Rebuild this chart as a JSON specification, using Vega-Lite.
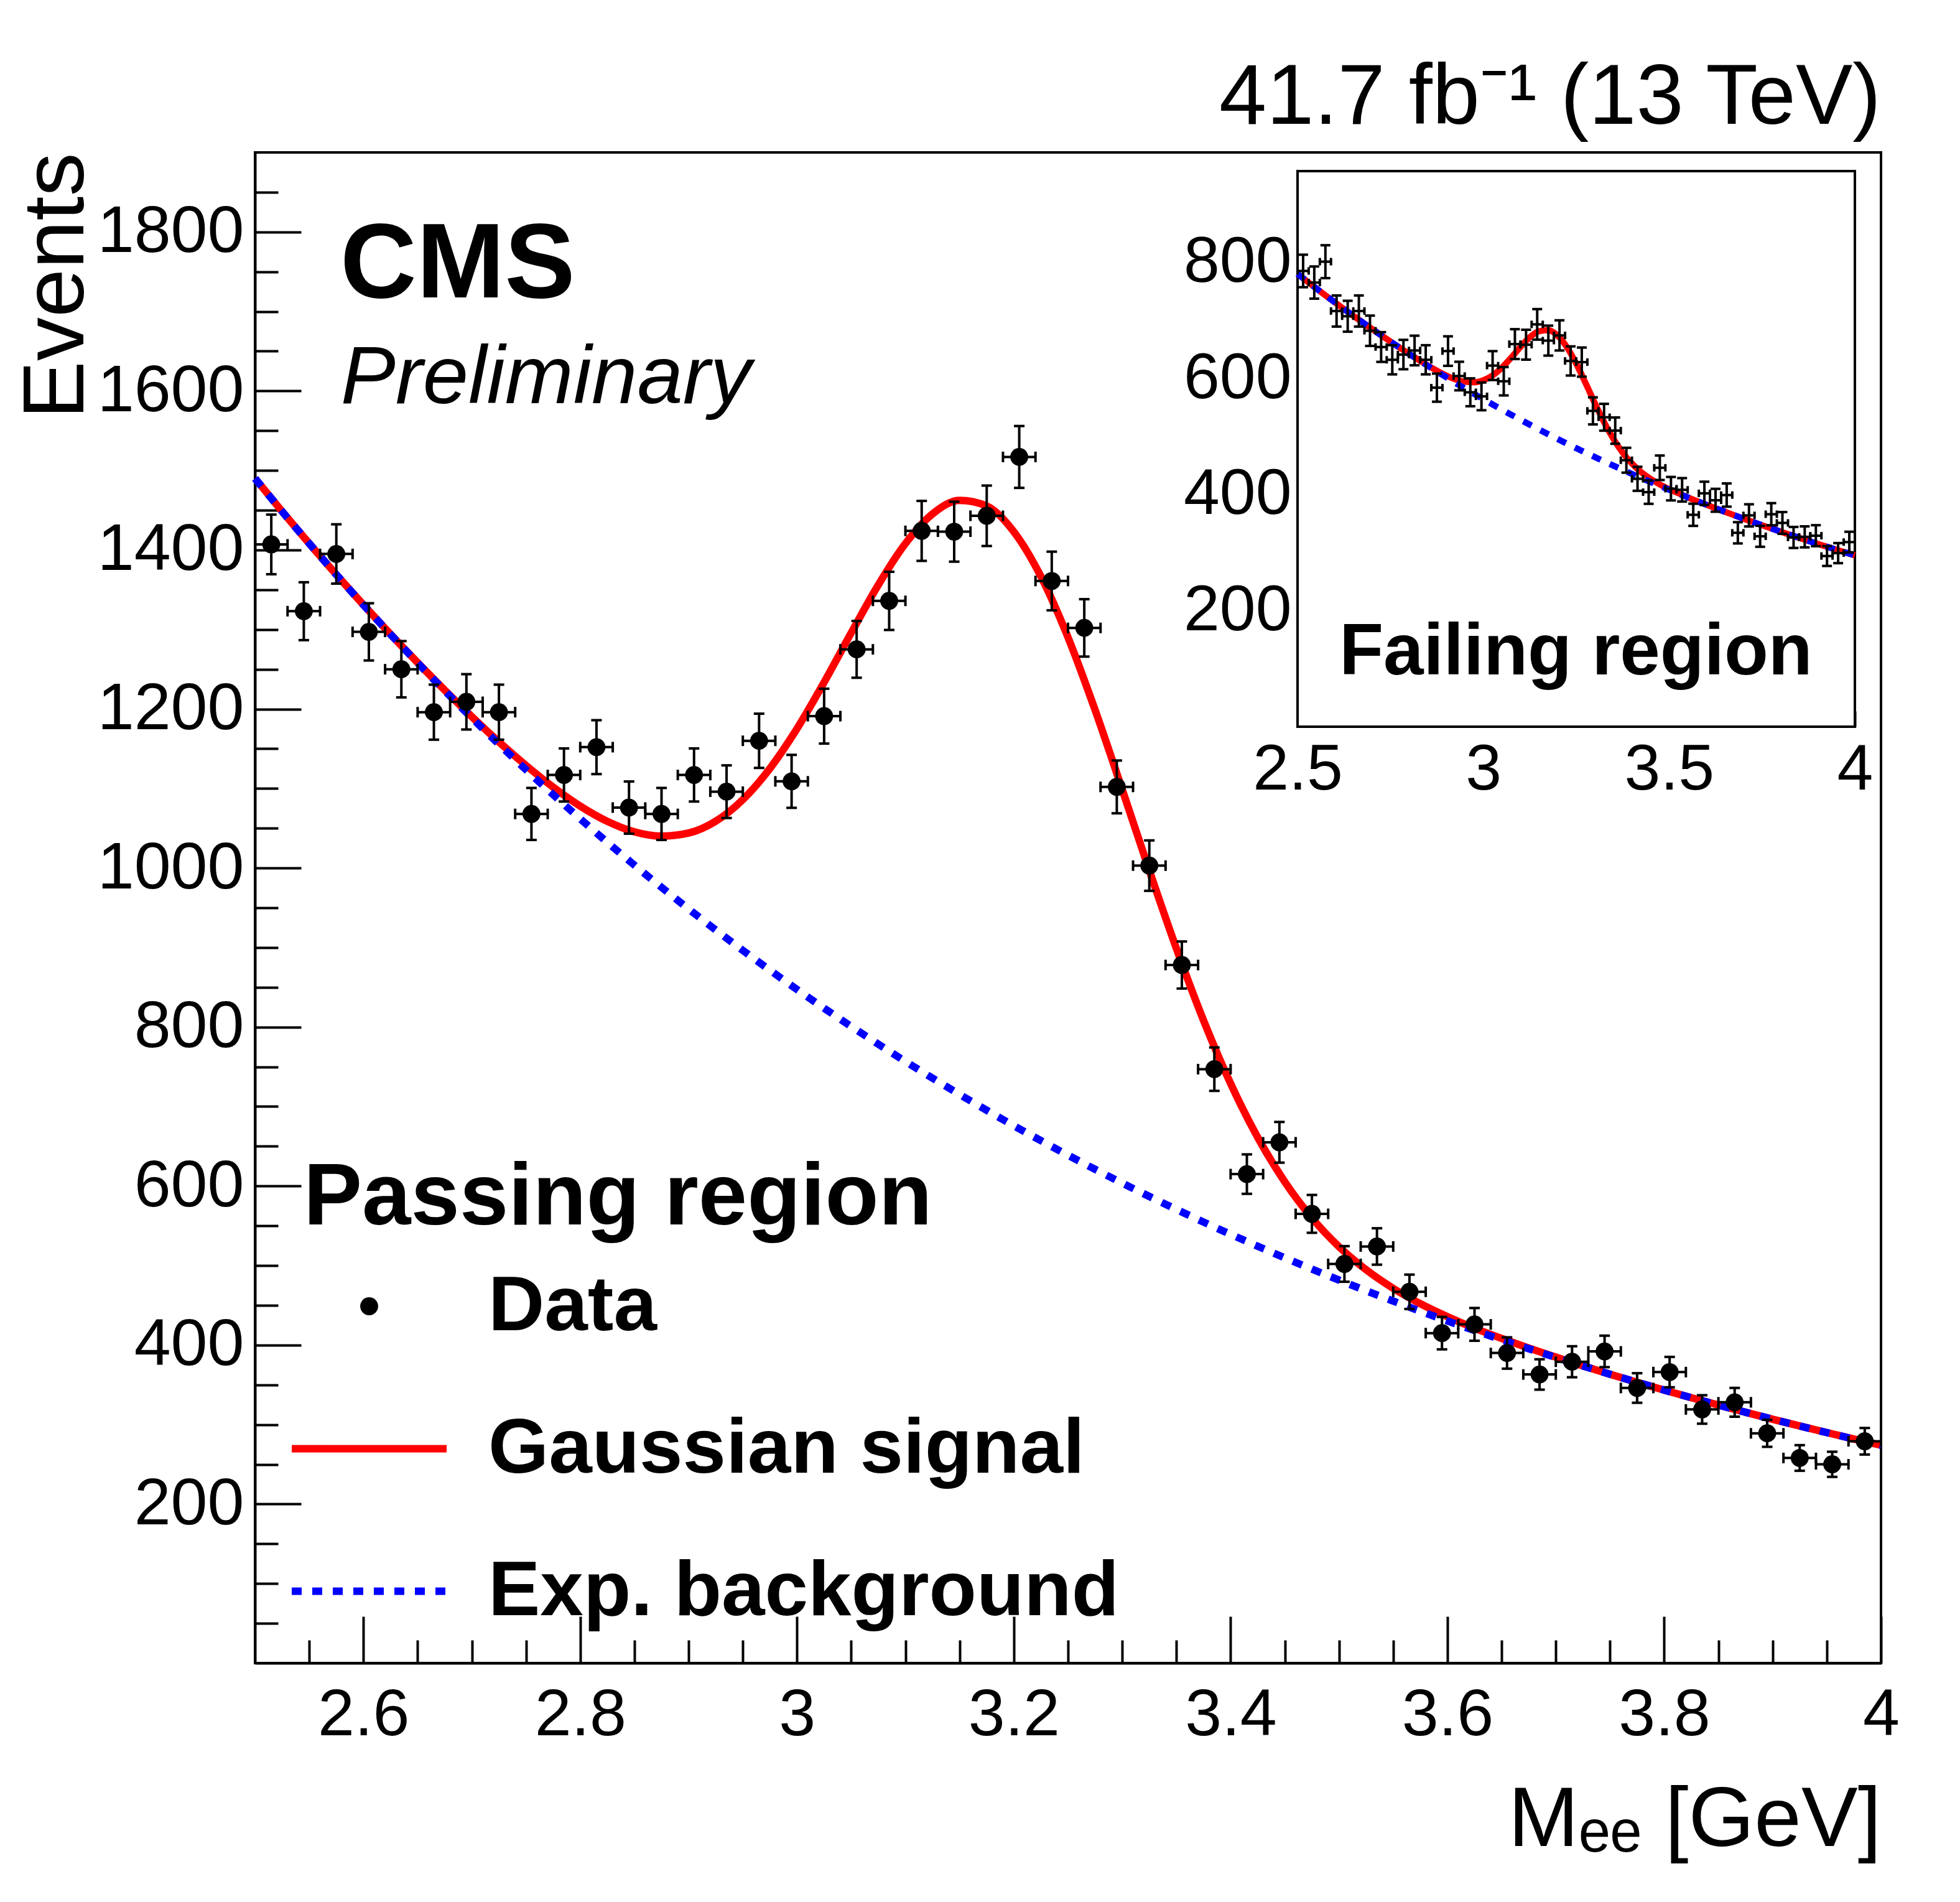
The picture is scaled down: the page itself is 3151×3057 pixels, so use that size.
{
  "$schema": "https://vega.github.io/schema/vega-lite/v6.json",
  "width": 2614,
  "height": 2428,
  "autosize": {"type": "none"},
  "padding": {"left": 410, "top": 245, "right": 127, "bottom": 384},
  "background": "white",
  "title": {"text": "41.7 fb⁻¹ (13 TeV)", "anchor": "end", "frame": "group", "fontSize": 137, "fontWeight": "normal", "font": "Liberation Sans", "baseline": "alphabetic", "offset": -91, "color": "black", "limit": 3000},
  "config": {
    "view": {"stroke": "black", "strokeWidth": 4},
    "axis": {"grid": false, "domainColor": "black", "tickColor": "black", "labelColor": "black", "titleColor": "black", "labelFont": "Liberation Sans", "titleFont": "Liberation Sans", "tickWidth": 4, "domainWidth": 4, "labelLimit": 1000, "titleLimit": 3000},
    "legend": {"labelFont": "Liberation Sans", "titleFont": "Liberation Sans"}
  },
  "datasets": {
    "pass": [
      {"m": 2.515, "n": 1407, "lo": 1369.5, "hi": 1444.5, "mlo": 2.5, "mhi": 2.53},
      {"m": 2.545, "n": 1323, "lo": 1286.6, "hi": 1359.4, "mlo": 2.53, "mhi": 2.56},
      {"m": 2.575, "n": 1395, "lo": 1357.7, "hi": 1432.3, "mlo": 2.56, "mhi": 2.59},
      {"m": 2.605, "n": 1297, "lo": 1261.0, "hi": 1333.0, "mlo": 2.59, "mhi": 2.62},
      {"m": 2.635, "n": 1250, "lo": 1214.6, "hi": 1285.4, "mlo": 2.62, "mhi": 2.65},
      {"m": 2.665, "n": 1196, "lo": 1161.4, "hi": 1230.6, "mlo": 2.65, "mhi": 2.68},
      {"m": 2.695, "n": 1209, "lo": 1174.2, "hi": 1243.8, "mlo": 2.68, "mhi": 2.71},
      {"m": 2.725, "n": 1196, "lo": 1161.4, "hi": 1230.6, "mlo": 2.71, "mhi": 2.74},
      {"m": 2.755, "n": 1068, "lo": 1035.3, "hi": 1100.7, "mlo": 2.74, "mhi": 2.77},
      {"m": 2.785, "n": 1117, "lo": 1083.6, "hi": 1150.4, "mlo": 2.77, "mhi": 2.8},
      {"m": 2.815, "n": 1152, "lo": 1118.1, "hi": 1185.9, "mlo": 2.8, "mhi": 2.83},
      {"m": 2.845, "n": 1076, "lo": 1043.2, "hi": 1108.8, "mlo": 2.83, "mhi": 2.86},
      {"m": 2.875, "n": 1068, "lo": 1035.3, "hi": 1100.7, "mlo": 2.86, "mhi": 2.89},
      {"m": 2.905, "n": 1117, "lo": 1083.6, "hi": 1150.4, "mlo": 2.89, "mhi": 2.92},
      {"m": 2.935, "n": 1096, "lo": 1062.9, "hi": 1129.1, "mlo": 2.92, "mhi": 2.95},
      {"m": 2.965, "n": 1160, "lo": 1125.9, "hi": 1194.1, "mlo": 2.95, "mhi": 2.98},
      {"m": 2.995, "n": 1109, "lo": 1075.7, "hi": 1142.3, "mlo": 2.98, "mhi": 3.01},
      {"m": 3.025, "n": 1191, "lo": 1156.5, "hi": 1225.5, "mlo": 3.01, "mhi": 3.04},
      {"m": 3.055, "n": 1275, "lo": 1239.3, "hi": 1310.7, "mlo": 3.04, "mhi": 3.07},
      {"m": 3.085, "n": 1336, "lo": 1299.4, "hi": 1372.6, "mlo": 3.07, "mhi": 3.1},
      {"m": 3.115, "n": 1424, "lo": 1386.3, "hi": 1461.7, "mlo": 3.1, "mhi": 3.13},
      {"m": 3.145, "n": 1423, "lo": 1385.3, "hi": 1460.7, "mlo": 3.13, "mhi": 3.16},
      {"m": 3.175, "n": 1443, "lo": 1405.0, "hi": 1481.0, "mlo": 3.16, "mhi": 3.19},
      {"m": 3.205, "n": 1517, "lo": 1478.1, "hi": 1555.9, "mlo": 3.19, "mhi": 3.22},
      {"m": 3.235, "n": 1361, "lo": 1324.1, "hi": 1397.9, "mlo": 3.22, "mhi": 3.25},
      {"m": 3.265, "n": 1302, "lo": 1265.9, "hi": 1338.1, "mlo": 3.25, "mhi": 3.28},
      {"m": 3.295, "n": 1102, "lo": 1068.8, "hi": 1135.2, "mlo": 3.28, "mhi": 3.31},
      {"m": 3.325, "n": 1003, "lo": 971.3, "hi": 1034.7, "mlo": 3.31, "mhi": 3.34},
      {"m": 3.355, "n": 878, "lo": 848.4, "hi": 907.6, "mlo": 3.34, "mhi": 3.37},
      {"m": 3.385, "n": 747, "lo": 719.7, "hi": 774.3, "mlo": 3.37, "mhi": 3.4},
      {"m": 3.415, "n": 615, "lo": 590.2, "hi": 639.8, "mlo": 3.4, "mhi": 3.43},
      {"m": 3.445, "n": 655, "lo": 629.4, "hi": 680.6, "mlo": 3.43, "mhi": 3.46},
      {"m": 3.475, "n": 565, "lo": 541.2, "hi": 588.8, "mlo": 3.46, "mhi": 3.49},
      {"m": 3.505, "n": 502, "lo": 479.6, "hi": 524.4, "mlo": 3.49, "mhi": 3.52},
      {"m": 3.535, "n": 524, "lo": 501.1, "hi": 546.9, "mlo": 3.52, "mhi": 3.55},
      {"m": 3.565, "n": 467, "lo": 445.4, "hi": 488.6, "mlo": 3.55, "mhi": 3.58},
      {"m": 3.595, "n": 415, "lo": 394.6, "hi": 435.4, "mlo": 3.58, "mhi": 3.61},
      {"m": 3.625, "n": 426, "lo": 405.4, "hi": 446.6, "mlo": 3.61, "mhi": 3.64},
      {"m": 3.655, "n": 390, "lo": 370.3, "hi": 409.7, "mlo": 3.64, "mhi": 3.67},
      {"m": 3.685, "n": 363, "lo": 343.9, "hi": 382.1, "mlo": 3.67, "mhi": 3.7},
      {"m": 3.715, "n": 379, "lo": 359.5, "hi": 398.5, "mlo": 3.7, "mhi": 3.73},
      {"m": 3.745, "n": 392, "lo": 372.2, "hi": 411.8, "mlo": 3.73, "mhi": 3.76},
      {"m": 3.775, "n": 346, "lo": 327.4, "hi": 364.6, "mlo": 3.76, "mhi": 3.79},
      {"m": 3.805, "n": 366, "lo": 346.9, "hi": 385.1, "mlo": 3.79, "mhi": 3.82},
      {"m": 3.835, "n": 319, "lo": 301.1, "hi": 336.9, "mlo": 3.82, "mhi": 3.85},
      {"m": 3.865, "n": 328, "lo": 309.9, "hi": 346.1, "mlo": 3.85, "mhi": 3.88},
      {"m": 3.895, "n": 289, "lo": 272.0, "hi": 306.0, "mlo": 3.88, "mhi": 3.91},
      {"m": 3.925, "n": 258, "lo": 241.9, "hi": 274.1, "mlo": 3.91, "mhi": 3.94},
      {"m": 3.955, "n": 250, "lo": 234.2, "hi": 265.8, "mlo": 3.94, "mhi": 3.97},
      {"m": 3.985, "n": 279, "lo": 262.3, "hi": 295.7, "mlo": 3.97, "mhi": 4.0}
    ],
    "passfit": [
      {"m": 2.5, "total": 1490.0, "bg": 1490.0},
      {"m": 2.525, "total": 1448.5, "bg": 1448.5},
      {"m": 2.55, "total": 1408.2, "bg": 1408.2},
      {"m": 2.575, "total": 1369.0, "bg": 1369.0},
      {"m": 2.6, "total": 1331.0, "bg": 1330.9},
      {"m": 2.625, "total": 1294.1, "bg": 1293.9},
      {"m": 2.65, "total": 1258.3, "bg": 1257.9},
      {"m": 2.675, "total": 1223.7, "bg": 1222.9},
      {"m": 2.7, "total": 1190.4, "bg": 1188.8},
      {"m": 2.725, "total": 1158.6, "bg": 1155.7},
      {"m": 2.75, "total": 1129.0, "bg": 1123.6},
      {"m": 2.775, "total": 1101.7, "bg": 1092.3},
      {"m": 2.8, "total": 1077.9, "bg": 1061.9},
      {"m": 2.825, "total": 1058.7, "bg": 1032.3},
      {"m": 2.85, "total": 1045.5, "bg": 1003.6},
      {"m": 2.875, "total": 1040.1, "bg": 975.7},
      {"m": 2.9, "total": 1044.0, "bg": 948.5},
      {"m": 2.925, "total": 1058.9, "bg": 922.1},
      {"m": 2.95, "total": 1086.0, "bg": 896.4},
      {"m": 2.975, "total": 1125.2, "bg": 871.5},
      {"m": 3.0, "total": 1175.3, "bg": 847.2},
      {"m": 3.025, "total": 1233.6, "bg": 823.6},
      {"m": 3.05, "total": 1295.8, "bg": 800.7},
      {"m": 3.075, "total": 1356.1, "bg": 778.4},
      {"m": 3.1, "total": 1408.0, "bg": 756.7},
      {"m": 3.125, "total": 1445.3, "bg": 735.7},
      {"m": 3.15, "total": 1462.3, "bg": 715.2},
      {"m": 3.175, "total": 1455.3, "bg": 695.3},
      {"m": 3.2, "total": 1423.0, "bg": 675.9},
      {"m": 3.225, "total": 1366.7, "bg": 657.1},
      {"m": 3.25, "total": 1290.1, "bg": 638.8},
      {"m": 3.275, "total": 1198.7, "bg": 621.0},
      {"m": 3.3, "total": 1098.8, "bg": 603.7},
      {"m": 3.325, "total": 996.9, "bg": 586.9},
      {"m": 3.35, "total": 898.7, "bg": 570.6},
      {"m": 3.375, "total": 808.4, "bg": 554.7},
      {"m": 3.4, "total": 728.9, "bg": 539.3},
      {"m": 3.425, "total": 661.1, "bg": 524.3},
      {"m": 3.45, "total": 605.2, "bg": 509.7},
      {"m": 3.475, "total": 559.9, "bg": 495.5},
      {"m": 3.5, "total": 523.6, "bg": 481.7},
      {"m": 3.525, "total": 494.7, "bg": 468.3},
      {"m": 3.55, "total": 471.3, "bg": 455.3},
      {"m": 3.575, "total": 452.0, "bg": 442.6},
      {"m": 3.6, "total": 435.7, "bg": 430.3},
      {"m": 3.625, "total": 421.2, "bg": 418.3},
      {"m": 3.65, "total": 408.3, "bg": 406.7},
      {"m": 3.675, "total": 396.2, "bg": 395.4},
      {"m": 3.7, "total": 384.8, "bg": 384.4},
      {"m": 3.725, "total": 373.8, "bg": 373.7},
      {"m": 3.75, "total": 363.3, "bg": 363.3},
      {"m": 3.775, "total": 353.2, "bg": 353.2},
      {"m": 3.8, "total": 343.3, "bg": 343.3},
      {"m": 3.825, "total": 333.8, "bg": 333.8},
      {"m": 3.85, "total": 324.5, "bg": 324.5},
      {"m": 3.875, "total": 315.5, "bg": 315.5},
      {"m": 3.9, "total": 306.7, "bg": 306.7},
      {"m": 3.925, "total": 298.2, "bg": 298.2},
      {"m": 3.95, "total": 289.9, "bg": 289.9},
      {"m": 3.975, "total": 281.8, "bg": 281.8},
      {"m": 4.0, "total": 274.0, "bg": 274.0}
    ],
    "fail": [
      {"m": 2.515, "n": 785, "lo": 757.0, "hi": 813.0, "mlo": 2.5, "mhi": 2.53},
      {"m": 2.545, "n": 765, "lo": 737.3, "hi": 792.7, "mlo": 2.53, "mhi": 2.56},
      {"m": 2.575, "n": 801, "lo": 772.7, "hi": 829.3, "mlo": 2.56, "mhi": 2.59},
      {"m": 2.605, "n": 716, "lo": 689.2, "hi": 742.8, "mlo": 2.59, "mhi": 2.62},
      {"m": 2.635, "n": 707, "lo": 680.4, "hi": 733.6, "mlo": 2.62, "mhi": 2.65},
      {"m": 2.665, "n": 716, "lo": 689.2, "hi": 742.8, "mlo": 2.65, "mhi": 2.68},
      {"m": 2.695, "n": 682, "lo": 655.9, "hi": 708.1, "mlo": 2.68, "mhi": 2.71},
      {"m": 2.725, "n": 654, "lo": 628.4, "hi": 679.6, "mlo": 2.71, "mhi": 2.74},
      {"m": 2.755, "n": 632, "lo": 606.9, "hi": 657.1, "mlo": 2.74, "mhi": 2.77},
      {"m": 2.785, "n": 641, "lo": 615.7, "hi": 666.3, "mlo": 2.77, "mhi": 2.8},
      {"m": 2.815, "n": 648, "lo": 622.5, "hi": 673.5, "mlo": 2.8, "mhi": 2.83},
      {"m": 2.845, "n": 632, "lo": 606.9, "hi": 657.1, "mlo": 2.83, "mhi": 2.86},
      {"m": 2.875, "n": 584, "lo": 559.8, "hi": 608.2, "mlo": 2.86, "mhi": 2.89},
      {"m": 2.905, "n": 647, "lo": 621.6, "hi": 672.4, "mlo": 2.89, "mhi": 2.92},
      {"m": 2.935, "n": 604, "lo": 579.4, "hi": 628.6, "mlo": 2.92, "mhi": 2.95},
      {"m": 2.965, "n": 576, "lo": 552.0, "hi": 600.0, "mlo": 2.95, "mhi": 2.98},
      {"m": 2.995, "n": 569, "lo": 545.1, "hi": 592.9, "mlo": 2.98, "mhi": 3.01},
      {"m": 3.025, "n": 622, "lo": 597.1, "hi": 646.9, "mlo": 3.01, "mhi": 3.04},
      {"m": 3.055, "n": 595, "lo": 570.6, "hi": 619.4, "mlo": 3.04, "mhi": 3.07},
      {"m": 3.085, "n": 659, "lo": 633.3, "hi": 684.7, "mlo": 3.07, "mhi": 3.1},
      {"m": 3.115, "n": 658, "lo": 632.3, "hi": 683.7, "mlo": 3.1, "mhi": 3.13},
      {"m": 3.145, "n": 693, "lo": 666.7, "hi": 719.3, "mlo": 3.13, "mhi": 3.16},
      {"m": 3.175, "n": 665, "lo": 639.2, "hi": 690.8, "mlo": 3.16, "mhi": 3.19},
      {"m": 3.205, "n": 674, "lo": 648.0, "hi": 700.0, "mlo": 3.19, "mhi": 3.22},
      {"m": 3.235, "n": 630, "lo": 604.9, "hi": 655.1, "mlo": 3.22, "mhi": 3.25},
      {"m": 3.265, "n": 628, "lo": 602.9, "hi": 653.1, "mlo": 3.25, "mhi": 3.28},
      {"m": 3.295, "n": 544, "lo": 520.7, "hi": 567.3, "mlo": 3.28, "mhi": 3.31},
      {"m": 3.325, "n": 533, "lo": 509.9, "hi": 556.1, "mlo": 3.31, "mhi": 3.34},
      {"m": 3.355, "n": 510, "lo": 487.4, "hi": 532.6, "mlo": 3.34, "mhi": 3.37},
      {"m": 3.385, "n": 459, "lo": 437.6, "hi": 480.4, "mlo": 3.37, "mhi": 3.4},
      {"m": 3.415, "n": 427, "lo": 406.3, "hi": 447.7, "mlo": 3.4, "mhi": 3.43},
      {"m": 3.445, "n": 404, "lo": 383.9, "hi": 424.1, "mlo": 3.43, "mhi": 3.46},
      {"m": 3.475, "n": 446, "lo": 424.9, "hi": 467.1, "mlo": 3.46, "mhi": 3.49},
      {"m": 3.505, "n": 410, "lo": 389.8, "hi": 430.2, "mlo": 3.49, "mhi": 3.52},
      {"m": 3.535, "n": 408, "lo": 387.8, "hi": 428.2, "mlo": 3.52, "mhi": 3.55},
      {"m": 3.565, "n": 365, "lo": 345.9, "hi": 384.1, "mlo": 3.55, "mhi": 3.58},
      {"m": 3.595, "n": 402, "lo": 382.0, "hi": 422.0, "mlo": 3.58, "mhi": 3.61},
      {"m": 3.625, "n": 390, "lo": 370.3, "hi": 409.7, "mlo": 3.61, "mhi": 3.64},
      {"m": 3.655, "n": 399, "lo": 379.0, "hi": 419.0, "mlo": 3.64, "mhi": 3.67},
      {"m": 3.685, "n": 334, "lo": 315.7, "hi": 352.3, "mlo": 3.67, "mhi": 3.7},
      {"m": 3.715, "n": 364, "lo": 344.9, "hi": 383.1, "mlo": 3.7, "mhi": 3.73},
      {"m": 3.745, "n": 328, "lo": 309.9, "hi": 346.1, "mlo": 3.73, "mhi": 3.76},
      {"m": 3.775, "n": 366, "lo": 346.9, "hi": 385.1, "mlo": 3.76, "mhi": 3.79},
      {"m": 3.805, "n": 351, "lo": 332.3, "hi": 369.7, "mlo": 3.79, "mhi": 3.82},
      {"m": 3.835, "n": 326, "lo": 307.9, "hi": 344.1, "mlo": 3.82, "mhi": 3.85},
      {"m": 3.865, "n": 327, "lo": 308.9, "hi": 345.1, "mlo": 3.85, "mhi": 3.88},
      {"m": 3.895, "n": 329, "lo": 310.9, "hi": 347.1, "mlo": 3.88, "mhi": 3.91},
      {"m": 3.925, "n": 294, "lo": 276.9, "hi": 311.1, "mlo": 3.91, "mhi": 3.94},
      {"m": 3.955, "n": 299, "lo": 281.7, "hi": 316.3, "mlo": 3.94, "mhi": 3.97},
      {"m": 3.985, "n": 318, "lo": 300.2, "hi": 335.8, "mlo": 3.97, "mhi": 4.0}
    ],
    "failfit": [
      {"m": 2.5, "total": 780.0, "bg": 780.0},
      {"m": 2.525, "total": 767.5, "bg": 767.5},
      {"m": 2.55, "total": 755.1, "bg": 755.1},
      {"m": 2.575, "total": 743.0, "bg": 743.0},
      {"m": 2.6, "total": 731.1, "bg": 731.1},
      {"m": 2.625, "total": 719.3, "bg": 719.3},
      {"m": 2.65, "total": 707.8, "bg": 707.8},
      {"m": 2.675, "total": 696.4, "bg": 696.4},
      {"m": 2.7, "total": 685.2, "bg": 685.2},
      {"m": 2.725, "total": 674.2, "bg": 674.2},
      {"m": 2.75, "total": 663.4, "bg": 663.4},
      {"m": 2.775, "total": 652.7, "bg": 652.7},
      {"m": 2.8, "total": 642.3, "bg": 642.2},
      {"m": 2.825, "total": 632.2, "bg": 631.9},
      {"m": 2.85, "total": 622.4, "bg": 621.7},
      {"m": 2.875, "total": 613.2, "bg": 611.7},
      {"m": 2.9, "total": 605.0, "bg": 601.9},
      {"m": 2.925, "total": 598.3, "bg": 592.2},
      {"m": 2.95, "total": 594.1, "bg": 582.7},
      {"m": 2.975, "total": 593.3, "bg": 573.4},
      {"m": 3.0, "total": 596.7, "bg": 564.2},
      {"m": 3.025, "total": 605.1, "bg": 555.1},
      {"m": 3.05, "total": 618.6, "bg": 546.2},
      {"m": 3.075, "total": 635.7, "bg": 537.4},
      {"m": 3.1, "total": 654.2, "bg": 528.8},
      {"m": 3.125, "total": 670.7, "bg": 520.3},
      {"m": 3.15, "total": 681.2, "bg": 511.9},
      {"m": 3.175, "total": 682.8, "bg": 503.7},
      {"m": 3.2, "total": 673.6, "bg": 495.6},
      {"m": 3.225, "total": 653.8, "bg": 487.6},
      {"m": 3.25, "total": 625.5, "bg": 479.8},
      {"m": 3.275, "total": 592.2, "bg": 472.1},
      {"m": 3.3, "total": 557.4, "bg": 464.5},
      {"m": 3.325, "total": 524.6, "bg": 457.0},
      {"m": 3.35, "total": 495.9, "bg": 449.7},
      {"m": 3.375, "total": 472.1, "bg": 442.5},
      {"m": 3.4, "total": 453.3, "bg": 435.4},
      {"m": 3.425, "total": 438.5, "bg": 428.4},
      {"m": 3.45, "total": 426.9, "bg": 421.5},
      {"m": 3.475, "total": 417.4, "bg": 414.7},
      {"m": 3.5, "total": 409.4, "bg": 408.1},
      {"m": 3.525, "total": 402.1, "bg": 401.5},
      {"m": 3.55, "total": 395.1, "bg": 395.1},
      {"m": 3.575, "total": 388.7, "bg": 388.7},
      {"m": 3.6, "total": 382.5, "bg": 382.5},
      {"m": 3.625, "total": 376.3, "bg": 376.3},
      {"m": 3.65, "total": 370.3, "bg": 370.3},
      {"m": 3.675, "total": 364.3, "bg": 364.3},
      {"m": 3.7, "total": 358.5, "bg": 358.5},
      {"m": 3.725, "total": 352.7, "bg": 352.7},
      {"m": 3.75, "total": 347.1, "bg": 347.1},
      {"m": 3.775, "total": 341.5, "bg": 341.5},
      {"m": 3.8, "total": 336.0, "bg": 336.0},
      {"m": 3.825, "total": 330.6, "bg": 330.6},
      {"m": 3.85, "total": 325.3, "bg": 325.3},
      {"m": 3.875, "total": 320.1, "bg": 320.1},
      {"m": 3.9, "total": 314.9, "bg": 314.9},
      {"m": 3.925, "total": 309.9, "bg": 309.9},
      {"m": 3.95, "total": 304.9, "bg": 304.9},
      {"m": 3.975, "total": 300.0, "bg": 300.0},
      {"m": 4.0, "total": 295.2, "bg": 295.2}
    ]
  },
  "layer": [
    {
      "layer": [
        {
          "layer": [
            {
              "data": {"name": "passfit"},
              "mark": {"type": "line", "strokeWidth": 12, "interpolate": "monotone", "strokeCap": "butt"},
              "encoding": {
                "x": {"field": "m", "type": "quantitative", "scale": {"domain": [2.5, 4], "nice": false, "zero": false},
                  "axis": {"orient": "bottom", "values": [2.6, 2.8, 3, 3.2, 3.4, 3.6, 3.8, 4], "format": "~g", "tickSize": -75, "labelFontSize": 106, "labelPadding": 190, "labelBaseline": "alphabetic", "labelFlush": false, "labelOverlap": false, "labelBound": false,
                    "title": "Mₑₑ [GeV]", "titleFontSize": 136, "titleFontWeight": "normal", "titleX": 2614, "titleY": 293, "titleAlign": "right", "titleAnchor": "end", "titleBaseline": "alphabetic"}},
                "y": {"field": "total", "type": "quantitative", "scale": {"domain": [0, 1900], "nice": false, "zero": false},
                  "axis": {"orient": "left", "values": [200, 400, 600, 800, 1000, 1200, 1400, 1600, 1800], "format": "d", "tickSize": -74, "labelFontSize": 106, "labelPadding": 92, "labelOverlap": false, "labelBound": false,
                    "title": "Events", "titleFontSize": 140, "titleFontWeight": "normal", "titleX": -277, "titleY": 0, "titleAngle": 270, "titleAlign": "right", "titleBaseline": "alphabetic"}},
                "color": {"datum": "Gaussian signal",
                  "scale": {"domain": ["Data", "Gaussian signal", "Exp. background"], "range": ["black", "red", "blue"]},
                  "legend": {"orient": "none", "legendX": 78, "legendY": 1612, "padding": 0, "offset": 0,
                    "title": "Passing region", "titleFontSize": 141, "titleFontWeight": "bold", "titleColor": "black", "titlePadding": 39, "titleLimit": 3000,
                    "labelFontSize": 125, "labelFontWeight": "bold", "labelColor": "black", "labelOffset": 129, "labelLimit": 3000,
                    "symbolSize": 62001, "symbolType": "stroke", "symbolStrokeWidth": 12, "rowPadding": 103,
                    "encode": {
                      "title": {"update": {"dx": {"value": -43}}},
                      "symbols": {"update": {
                      "shape": {"signal": "datum.value === 'Data' ? 'circle' : 'stroke'"},
                      "size": {"signal": "datum.value === 'Data' ? 830 : 62001"},
                      "fill": {"signal": "datum.value === 'Data' ? 'black' : 'transparent'"},
                      "stroke": {"signal": "datum.value === 'Data' ? 'black' : (datum.value === 'Gaussian signal' ? 'red' : 'blue')"},
                      "strokeWidth": {"signal": "datum.value === 'Data' ? 0 : 12"},
                      "strokeDash": {"signal": "datum.value === 'Exp. background' ? [16, 17] : [1, 0]"},
                      "opacity": {"value": 1}
                    }}}}}
              }
            },
            {
              "data": {"name": "passfit"},
              "mark": {"type": "line", "strokeWidth": 12, "strokeDash": [16, 17], "strokeCap": "butt", "interpolate": "monotone"},
              "encoding": {
                "x": {"field": "m", "type": "quantitative"},
                "y": {"field": "bg", "type": "quantitative"},
                "color": {"datum": "Exp. background"}
              }
            },
            {
              "data": {"name": "pass"},
              "mark": {"type": "rule", "strokeWidth": 4, "color": "black"},
              "encoding": {"x": {"field": "m", "type": "quantitative"}, "y": {"field": "lo", "type": "quantitative"}, "y2": {"field": "hi"}}
            },
            {
              "data": {"name": "pass"},
              "mark": {"type": "rule", "strokeWidth": 4, "color": "black"},
              "encoding": {"x": {"field": "mlo", "type": "quantitative"}, "x2": {"field": "mhi"}, "y": {"field": "n", "type": "quantitative"}}
            },
            {
              "data": {"name": "pass"},
              "mark": {"type": "tick", "orient": "horizontal", "size": 17, "thickness": 4, "color": "black", "opacity": 1},
              "encoding": {"x": {"field": "m", "type": "quantitative"}, "y": {"field": "lo", "type": "quantitative"}}
            },
            {
              "data": {"name": "pass"},
              "mark": {"type": "tick", "orient": "horizontal", "size": 17, "thickness": 4, "color": "black", "opacity": 1},
              "encoding": {"x": {"field": "m", "type": "quantitative"}, "y": {"field": "hi", "type": "quantitative"}}
            },
            {
              "data": {"name": "pass"},
              "mark": {"type": "tick", "orient": "vertical", "size": 17, "thickness": 4, "color": "black", "opacity": 1},
              "encoding": {"x": {"field": "mlo", "type": "quantitative"}, "y": {"field": "n", "type": "quantitative"}}
            },
            {
              "data": {"name": "pass"},
              "mark": {"type": "tick", "orient": "vertical", "size": 17, "thickness": 4, "color": "black", "opacity": 1},
              "encoding": {"x": {"field": "mhi", "type": "quantitative"}, "y": {"field": "n", "type": "quantitative"}}
            },
            {
              "data": {"name": "pass"},
              "mark": {"type": "point", "filled": true, "shape": "circle", "size": 830, "opacity": 1},
              "encoding": {"x": {"field": "m", "type": "quantitative"}, "y": {"field": "n", "type": "quantitative"}, "color": {"datum": "Data"}}
            },
            {
              "data": {"values": [{"label": "CMS"}]},
              "mark": {"type": "text", "font": "Liberation Sans", "fontSize": 170, "fontWeight": "bold", "align": "left", "baseline": "alphabetic", "color": "black"},
              "encoding": {"x": {"datum": 2.5786}, "y": {"datum": 1718}, "text": {"field": "label"}}
            },
            {
              "data": {"values": [{"label": "Preliminary"}]},
              "mark": {"type": "text", "font": "Liberation Sans", "fontSize": 132, "fontStyle": "italic", "align": "left", "baseline": "alphabetic", "color": "black"},
              "encoding": {"x": {"datum": 2.579}, "y": {"datum": 1585}, "text": {"field": "label"}}
            }
          ]
        },
        {
          "data": {"name": "pass"},
          "mark": {"type": "point", "opacity": 0},
          "encoding": {
            "x": {"field": "m", "type": "quantitative", "axis": {"orient": "bottom", "values": [2.55, 2.65, 2.7, 2.75, 2.85, 2.9, 2.95, 3.05, 3.1, 3.15, 3.25, 3.3, 3.35, 3.45, 3.5, 3.55, 3.65, 3.7, 3.75, 3.85, 3.9, 3.95], "tickSize": -37, "labels": false, "domain": false, "title": null}},
            "y": {"field": "n", "type": "quantitative", "axis": {"orient": "left", "values": [50, 100, 150, 250, 300, 350, 450, 500, 550, 650, 700, 750, 850, 900, 950, 1050, 1100, 1150, 1250, 1300, 1350, 1450, 1500, 1550, 1650, 1700, 1750, 1850], "tickSize": -37, "labels": false, "domain": false, "title": null}}
          }
        }
      ],
      "resolve": {"axis": {"x": "independent", "y": "independent"}}
    },
    {
      "layer": [
        {
          "layer": [
            {
              "data": {"values": [{"region": "Failing region"}]},
              "mark": {"type": "rect", "fill": "white", "stroke": "black", "strokeWidth": 4},
              "encoding": {"x": {"datum": 2.5, "type": "quantitative"}, "x2": {"datum": 4}, "y": {"datum": 0, "type": "quantitative"}, "y2": {"datum": 957}}
            },
            {
              "data": {"name": "failfit"},
              "mark": {"type": "line", "strokeWidth": 10, "color": "red", "interpolate": "monotone", "strokeCap": "butt"},
              "encoding": {
                "x": {"field": "m", "type": "quantitative", "scale": {"domain": [2.5, 4], "range": [1676, 2572], "nice": false, "zero": false},
                  "axis": {"orient": "bottom", "offset": -1505, "values": [2.5, 3, 3.5, 4], "format": "~g", "tickSize": -25, "domain": false, "labelFontSize": 104, "labelPadding": 125, "labelBaseline": "alphabetic", "labelFlush": false, "labelOverlap": false, "labelBound": false, "title": null}},
                "y": {"field": "total", "type": "quantitative", "scale": {"domain": [0, 957], "range": [923, 30], "nice": false, "zero": false},
                  "axis": {"orient": "left", "offset": -1676, "values": [200, 400, 600, 800], "format": "d", "tickSize": -28, "domain": false, "labelFontSize": 104, "labelPadding": 38, "labelOverlap": false, "labelBound": false, "title": null}}
              }
            },
            {
              "data": {"name": "failfit"},
              "mark": {"type": "line", "strokeWidth": 10, "color": "blue", "strokeDash": [15, 16], "strokeCap": "butt", "interpolate": "monotone"},
              "encoding": {"x": {"field": "m", "type": "quantitative"}, "y": {"field": "bg", "type": "quantitative"}}
            },
            {
              "data": {"name": "fail"},
              "mark": {"type": "rule", "strokeWidth": 4, "color": "black"},
              "encoding": {"x": {"field": "m", "type": "quantitative"}, "y": {"field": "lo", "type": "quantitative"}, "y2": {"field": "hi"}}
            },
            {
              "data": {"name": "fail"},
              "mark": {"type": "rule", "strokeWidth": 4, "color": "black"},
              "encoding": {"x": {"field": "mlo", "type": "quantitative"}, "x2": {"field": "mhi"}, "y": {"field": "n", "type": "quantitative"}}
            },
            {
              "data": {"name": "fail"},
              "mark": {"type": "tick", "orient": "horizontal", "size": 16, "thickness": 4, "color": "black", "opacity": 1},
              "encoding": {"x": {"field": "m", "type": "quantitative"}, "y": {"field": "lo", "type": "quantitative"}}
            },
            {
              "data": {"name": "fail"},
              "mark": {"type": "tick", "orient": "horizontal", "size": 16, "thickness": 4, "color": "black", "opacity": 1},
              "encoding": {"x": {"field": "m", "type": "quantitative"}, "y": {"field": "hi", "type": "quantitative"}}
            },
            {
              "data": {"name": "fail"},
              "mark": {"type": "tick", "orient": "vertical", "size": 12, "thickness": 4, "color": "black", "opacity": 1},
              "encoding": {"x": {"field": "mlo", "type": "quantitative"}, "y": {"field": "n", "type": "quantitative"}}
            },
            {
              "data": {"name": "fail"},
              "mark": {"type": "tick", "orient": "vertical", "size": 12, "thickness": 4, "color": "black", "opacity": 1},
              "encoding": {"x": {"field": "mhi", "type": "quantitative"}, "y": {"field": "n", "type": "quantitative"}}
            },
            {
              "data": {"values": [{"region": "Failing region"}]},
              "mark": {"type": "text", "font": "Liberation Sans", "fontSize": 116, "fontWeight": "bold", "align": "center", "baseline": "alphabetic", "color": "black"},
              "encoding": {"x": {"datum": 3.249}, "y": {"datum": 90}, "text": {"field": "region"}}
            }
          ]
        },
        {
          "data": {"name": "fail"},
          "mark": {"type": "point", "opacity": 0},
          "encoding": {
            "x": {"field": "m", "type": "quantitative", "axis": {"orient": "bottom", "offset": -1505, "values": [2.6, 2.7, 2.8, 2.9, 3.1, 3.2, 3.3, 3.4, 3.6, 3.7, 3.8, 3.9], "tickSize": -12, "labels": false, "domain": false, "title": null}},
            "y": {"field": "n", "type": "quantitative", "axis": {"orient": "left", "offset": -1676, "values": [50, 100, 150, 250, 300, 350, 450, 500, 550, 650, 700, 750, 850, 900], "tickSize": -14, "labels": false, "domain": false, "title": null}}
          }
        }
      ],
      "resolve": {"axis": {"x": "independent", "y": "independent"}}
    }
  ],
  "resolve": {"scale": {"x": "independent", "y": "independent"}, "axis": {"x": "independent", "y": "independent"}}
}
